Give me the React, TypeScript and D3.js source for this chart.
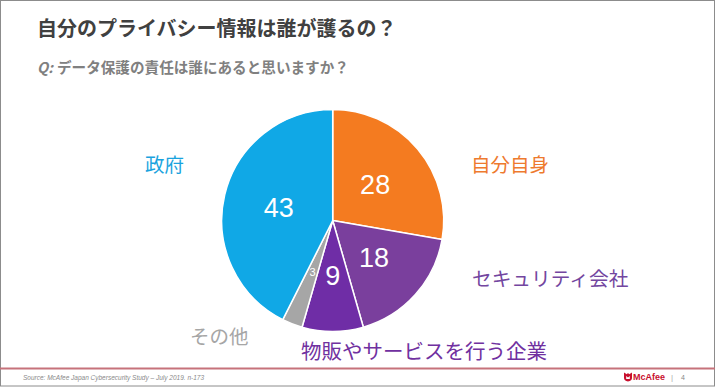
import React from "react";
import * as d3 from "d3";

const categories = ["自分自身", "セキュリティ会社", "物販やサービスを行う企業", "その他", "政府"];
const values = [28, 18, 9, 3, 43];
const sliceColors = ["#F47B20", "#7A3F9D", "#6F2DA6", "#A6A6A6", "#10A8E6"];
const labelColors = ["#EE7A2E", "#7346A0", "#7030A0", "#A6A6A6", "#1AA3DE"];
const title = "自分のプライバシー情報は誰が護るの？";
const subtitleQ = "Q:";
const subtitle = "データ保護の責任は誰にあると思いますか？";
const source = "Source: McAfee Japan Cybersecurity Study – July 2019. n-173";
const pageNumber = "4";

const W = 715;
const H = 388;
const cx = 332.7;
const cy = 220.5;
const R = 111;

// layout of category labels (x, y center, font size)
const labelPos: [number, number, number][] = [
  [471, 163.5, 19.5],
  [472, 277, 19.7],
  [301, 350, 20.5],
  [190, 335.5, 19.5],
  [145, 163.5, 19.5],
];

const jp = "'Noto Sans CJK JP', 'Noto Sans', sans-serif";
const latin = "'Liberation Sans', Arial, sans-serif";

export default function App() {
  const data = categories.map((c, i) => ({ c, v: values[i], i }));
  const pie = d3
    .pie<{ c: string; v: number; i: number }>()
    .value((d) => d.v)
    .sort(null)
    .startAngle(0)
    .endAngle(2 * Math.PI);
  const arcs = pie(data);
  const arc = d3
    .arc<d3.PieArcDatum<{ c: string; v: number; i: number }>>()
    .innerRadius(0)
    .outerRadius(R);

  return (
    <svg
      width={W}
      height={H}
      style={{ position: "absolute", left: 0, top: 0, background: "#fff" }}
    >
      <rect x={0.5} y={0.5} width={W - 1} height={385.5} fill="#fff" stroke="#8c8c8c" strokeWidth={1} />
      <text x={37} y={27.5} dominantBaseline="central" fontFamily={jp} fontWeight={700} fontSize={20} fill="#404040">
        {title}
      </text>
      <text x={37} y={65.5} dominantBaseline="central" fontFamily={jp} fontWeight={700} fontSize={14.6} fill="#808080">
        <tspan fontStyle="italic">{subtitleQ}</tspan>
        <tspan dx={4}>{subtitle}</tspan>
      </text>

      <g transform={`translate(${cx},${cy})`}>
        {arcs.map((a) => (
          <path key={a.data.c} d={arc(a) || ""} fill={sliceColors[a.data.i]} stroke="#fff" strokeWidth={1.5} strokeLinejoin="round" />
        ))}
        {arcs.map((a) => {
          const [x, y] = arc.centroid(a);
          const small = a.data.v < 5;
          return (
            <text
              key={"v" + a.data.c}
              x={x}
              y={y}
              textAnchor="middle"
              dominantBaseline="central"
              fontFamily={latin}
              fontSize={small ? 11 : 27}
              fill="#fff"
            >
              {a.data.v}
            </text>
          );
        })}
      </g>

      {categories.map((c, i) => (
        <text
          key={"l" + c}
          x={labelPos[i][0]}
          y={labelPos[i][1]}
          dominantBaseline="central"
          fontFamily={jp}
          fontSize={labelPos[i][2]}
          fill={labelColors[i]}
        >
          {c}
        </text>
      ))}

      <line x1={0} x2={W} y1={368.5} y2={368.5} stroke="#C6727B" strokeWidth={2} />
      <text x={23} y={377.5} dominantBaseline="central" fontFamily={latin} fontStyle="italic" fontSize={6.5} fill="#8a8a8a">
        {source}
      </text>
      <g transform="translate(624,372.5)">
        <path d="M0,0 L2.8,1.8 L4,0.6 L5.2,1.8 L8,0 L8,5.5 Q8,8 4,9 Q0,8 0,5.5 Z" fill="#C8102E" />
        <path d="M2.2,3.6 L4,5 L5.8,3.6 L5.8,6.4 L2.2,6.4 Z" fill="#fff" />
      </g>
      <text x={633} y={377} dominantBaseline="central" fontFamily={latin} fontWeight={700} fontSize={9} fill="#C8102E">
        McAfee
      </text>
      <text x={671} y={377} dominantBaseline="central" fontFamily={latin} fontSize={8} fill="#aaa">
        |
      </text>
      <text x={681} y={377} dominantBaseline="central" fontFamily={latin} fontSize={7} fill="#888">
        {pageNumber}
      </text>
    </svg>
  );
}
